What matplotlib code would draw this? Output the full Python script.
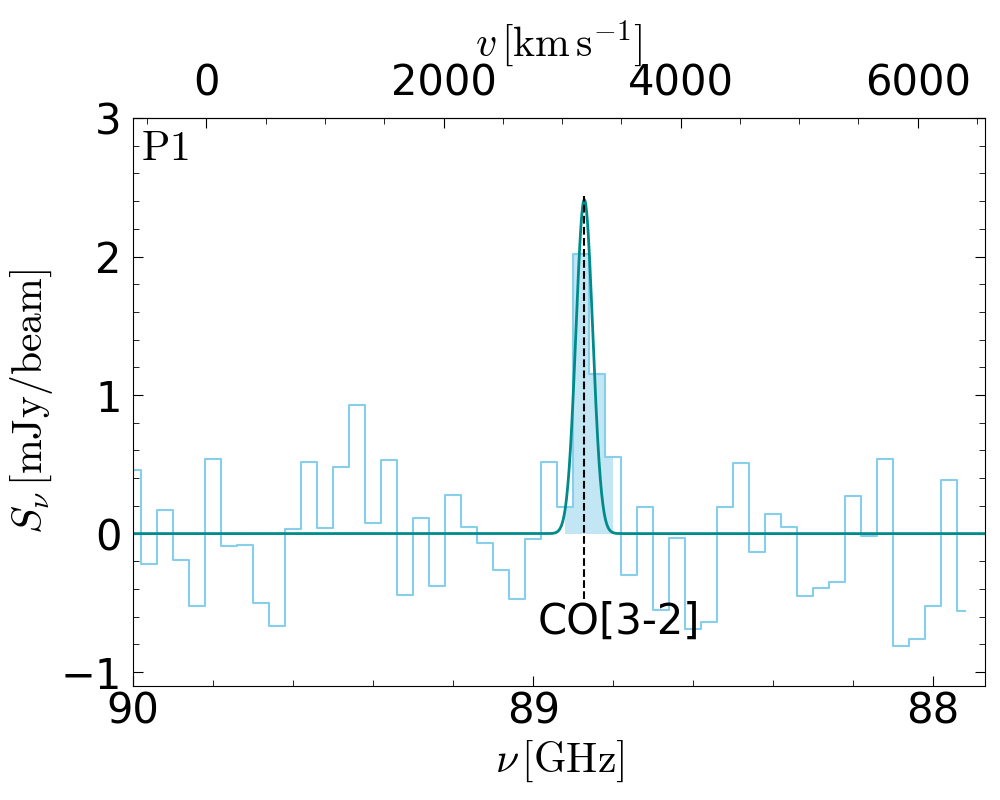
import matplotlib
matplotlib.use('Agg')
import matplotlib.pyplot as plt
import numpy as np
from matplotlib.ticker import MultipleLocator

plt.rcParams['mathtext.fontset'] = 'cm'
plt.rcParams['font.size'] = 30

# channel frequencies [GHz] and flux densities [mJy/beam]
freq = [90.00, 89.96, 89.92, 89.88, 89.84, 89.80, 89.76, 89.72, 89.68, 89.64,
        89.60, 89.56, 89.52, 89.48, 89.44, 89.40, 89.36, 89.32, 89.28, 89.24,
        89.20, 89.16, 89.12, 89.08, 89.04, 89.00, 88.96, 88.92, 88.88, 88.84,
        88.80, 88.76, 88.72, 88.68, 88.64, 88.60, 88.56, 88.52, 88.48, 88.44,
        88.40, 88.36, 88.32, 88.28, 88.24, 88.20, 88.16, 88.12, 88.08, 88.04,
        88.00, 87.96, 87.92]
flux = [0.46, -0.22, 0.17, -0.19, -0.52, 0.54, -0.09, -0.08, -0.50, -0.67,
        0.03, 0.52, 0.04, 0.48, 0.93, 0.08, 0.53, -0.44, 0.11, -0.38,
        0.28, 0.05, -0.07, -0.26, -0.47, -0.04, 0.52, 0.19, 2.02, 1.15,
        0.55, -0.30, 0.19, -0.55, -0.03, -0.69, -0.64, 0.19, 0.51, -0.13,
        0.14, 0.05, -0.45, -0.39, -0.35, 0.27, -0.02, 0.54, -0.81, -0.76,
        -0.52, 0.39, -0.56]

# channels used for the line flux (shaded)
line_chan = slice(27, 31)

# gaussian fit
amp = 2.41
nu_line = 88.872
sigma = 0.021

# velocity axis
c_kms = 299792.458
nu_zero = 89.817

freq = np.array(freq)
flux = np.array(flux)


def f2v(nu):
    return c_kms * (nu_zero - nu) / nu_line


def v2f(v):
    return nu_zero - v * nu_line / c_kms


fig = plt.figure(figsize=(10, 8), dpi=100)
ax = fig.add_axes([0.1333, 0.1425, 0.8517, 0.71])

ax.step(freq, flux, where='mid', color='skyblue', lw=1.5)
ax.fill_between(freq[line_chan], flux[line_chan], step='mid',
                color='skyblue', alpha=0.5, lw=0)

xfit = np.linspace(90.0, 87.87, 2000)
ax.plot(xfit, amp * np.exp(-0.5 * ((xfit - nu_line) / sigma) ** 2),
        color='darkcyan', lw=2)

ax.plot([nu_line, nu_line], [-0.47, 2.44], 'k--', lw=1.5)
ax.text(88.99, -0.72, 'CO[3-2]', fontsize=30, ha='left', va='baseline')

ax.text(0.009, 0.985, r'$\rm P1$', transform=ax.transAxes, fontsize=30,
        va='top', ha='left')

ax.set_xlim(90.0, 87.87)
ax.set_ylim(-1.1, 3.0)
ax.xaxis.set_major_locator(MultipleLocator(1))
ax.xaxis.set_minor_locator(MultipleLocator(0.2))
ax.yaxis.set_major_locator(MultipleLocator(1))
ax.yaxis.set_minor_locator(MultipleLocator(0.2))
ax.tick_params(which='both', direction='in', right=True, top=False,
               labelsize=30)
ax.tick_params(axis='y', which='major', pad=8.5)
ax.tick_params(which='major', length=7)
ax.tick_params(which='minor', length=4)

ax.set_xlabel(r'$\nu\,[\rm GHz]$', fontsize=30)
ax.set_ylabel(r'$S_\nu\,[\rm mJy/beam]$', fontsize=30)

secax = ax.secondary_xaxis('top', functions=(f2v, v2f))
secax.set_xticks([0, 2000, 4000, 6000])
secax.xaxis.set_minor_locator(MultipleLocator(500))
secax.tick_params(which='both', direction='in', labelsize=30, pad=10)
secax.tick_params(which='major', length=7)
secax.tick_params(which='minor', length=4)
secax.set_xlabel(r'$v\,[\rm km\,s^{-1}]$', fontsize=30)

fig.savefig('out.png', dpi=100)
